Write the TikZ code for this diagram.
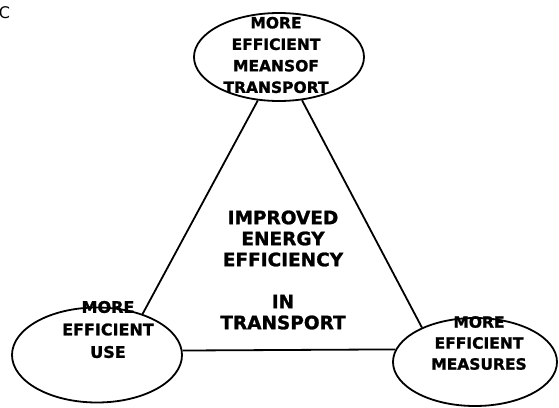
\documentclass[tikz,border=0pt]{standalone}
\usepackage{fontspec}
\setmainfont{DejaVu Sans}[BoldFeatures={FakeBold=1.3}]
\usetikzlibrary{shapes.geometric}
\begin{document}
\begin{tikzpicture}[x=1pt, y=-1pt, line width=1.8pt,
    bubble/.style={draw, ellipse, minimum width=#1},
    smalltxt/.style={align=center, inner sep=0pt, font=\bfseries\fontsize{15.5}{21.5}\selectfont},
    bigtxt/.style={align=center, inner sep=0pt, font=\bfseries\fontsize{18.5}{21}\selectfont}]
    % 1. Khung hình
    \useasboundingbox (0,0) rectangle (559,407);

    % 2. Chữ C ở góc
    \node[anchor=west, inner sep=0pt, font=\fontsize{16}{16}\selectfont] (tag) at (-2,13) {C};

    % 3. Ba hình elip
    \node[bubble=170pt, minimum height=88pt] (means) at (279,57) {};
    \node[bubble=170pt, minimum height=95pt] (use) at (97,355) {};
    \node[bubble=164pt, minimum height=88pt] (measures) at (475,362) {};

    % 4. Các cạnh tam giác
    \draw (means.244) -- (use.42);
    \draw (means.298) -- (measures.147);
    \draw (use.3.4) -- (measures.171);

    % 5. Chữ trong elip
    \node[smalltxt] (meanstxt) at (276,55) {MORE\\EFFICIENT\\MEANSOF\\TRANSPORT};
    \node[smalltxt, font=\bfseries\fontsize{16}{22.5}\selectfont] (usetxt) at (108,329.5) {MORE\\EFFICIENT\\USE};
    \node[smalltxt, font=\bfseries\fontsize{15.5}{21}\selectfont] (measurestxt) at (479,343) {MORE\\EFFICIENT\\MEASURES};

    % 6. Chữ ở giữa
    \node[bigtxt] (centre) at (283,270) {IMPROVED\\ENERGY\\EFFICIENCY\\[21pt]IN\\TRANSPORT};
\end{tikzpicture}
\end{document}
